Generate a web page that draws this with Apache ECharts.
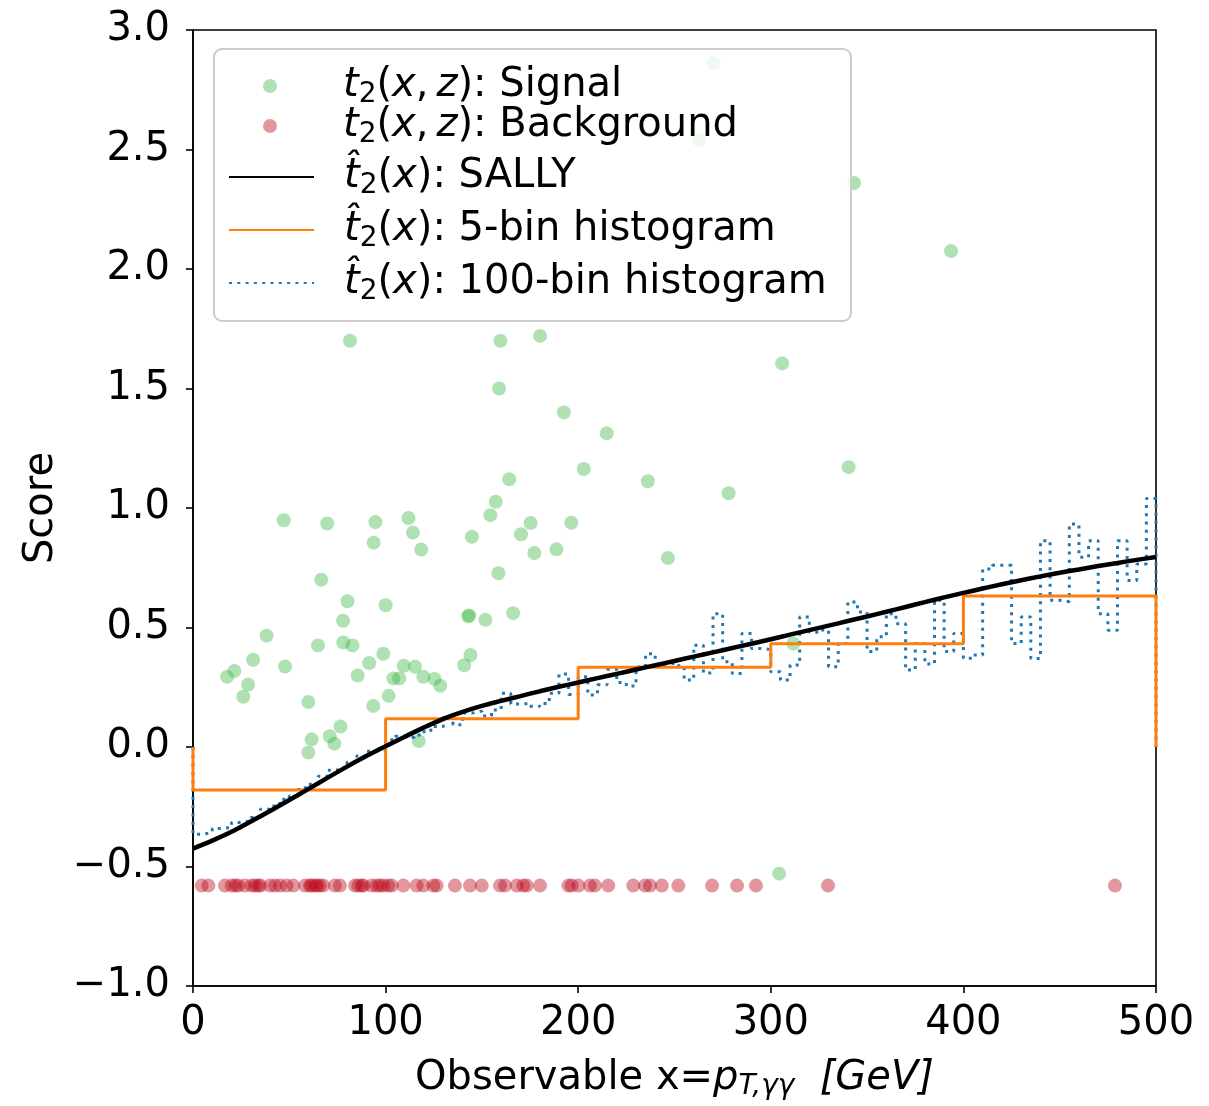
<!DOCTYPE html>
<html><head><meta charset="utf-8">
<script src="https://cdn.jsdelivr.net/npm/echarts@6/dist/echarts.min.js"></script>
<style>html,body{margin:0;padding:0;background:#fff;overflow:hidden}#c{width:1209px;height:1106px}</style>
</head><body><div id="c"></div>
<script>
// ---- data ----
const xTicks = [0, 100, 200, 300, 400, 500];
const yTicks = [-1.0, -0.5, 0.0, 0.5, 1.0, 1.5, 2.0, 2.5, 3.0];

const signalPoints = [
  [270.3,2.86],[262.7,2.54],[343.2,2.36],[393.6,2.075],[81.5,1.70],[159.6,1.70],[180.2,1.72],
  [158.9,1.50],[305.9,1.605],[192.6,1.40],[214.8,1.313],[202.9,1.163],[236.2,1.112],[278.1,1.062],
  [340.4,1.171],[164.2,1.12],[157.2,1.026],[154.4,0.97],[175.3,0.937],[170.3,0.89],[196.4,0.938],
  [177.2,0.812],[188.7,0.827],[144.8,0.88],[158.6,0.727],[246.6,0.791],[142.9,0.547],[143.4,0.55],
  [151.8,0.532],[166.2,0.56],[144.1,0.385],[140.8,0.342],[47.1,0.949],[69.7,0.935],[94.7,0.941],
  [111.9,0.958],[114.2,0.897],[93.8,0.855],[118.5,0.826],[66.6,0.70],[80.2,0.61],[100.0,0.593],
  [77.9,0.528],[38.2,0.466],[64.9,0.425],[78.0,0.437],[82.8,0.425],[21.5,0.318],[17.7,0.294],
  [31.2,0.365],[28.6,0.261],[26.1,0.21],[47.8,0.337],[98.8,0.39],[91.5,0.351],[85.5,0.299],
  [109.4,0.34],[115.3,0.336],[104.0,0.287],[107.1,0.287],[119.6,0.294],[125.4,0.285],[128.4,0.256],
  [59.9,0.188],[93.6,0.172],[101.6,0.214],[76.6,0.086],[71.0,0.045],[73.4,0.014],[61.6,0.032],
  [59.9,-0.023],[117.2,0.025],[311.7,0.433],[304.3,-0.53]
];

const backgroundPoints = [
  [4.5,-0.58],[8,-0.58],[16.6,-0.58],[20.1,-0.58],[22,-0.58],[23.5,-0.58],[27,-0.58],[30.5,-0.58],
  [32.2,-0.58],[33.9,-0.58],[35,-0.58],[40,-0.58],[42.6,-0.58],[45.2,-0.58],[48.6,-0.58],[52.1,-0.58],
  [58.2,-0.58],[60.7,-0.58],[61.5,-0.58],[63.3,-0.58],[64.5,-0.58],[65.9,-0.58],[67.7,-0.58],
  [73.7,-0.58],[76.3,-0.58],[84.1,-0.58],[85.8,-0.58],[87.6,-0.58],[88.5,-0.58],[92.8,-0.58],
  [95.4,-0.58],[97,-0.58],[98.8,-0.58],[101.4,-0.58],[103.2,-0.58],[109.2,-0.58],[116.1,-0.58],
  [119.6,-0.58],[124.8,-0.58],[126.5,-0.58],[136,-0.58],[143.8,-0.58],[149.9,-0.58],[159.4,-0.58],
  [162,-0.58],[168.1,-0.58],[171.5,-0.58],[173.3,-0.58],[180.2,-0.58],[194.9,-0.58],[196.6,-0.58],
  [200.1,-0.58],[206.1,-0.58],[208.7,-0.58],[215.6,-0.58],[228.6,-0.58],[234.7,-0.58],[237.3,-0.58],
  [243.4,-0.58],[252,-0.58],[269.5,-0.58],[282.5,-0.58],[292.3,-0.58],[329.7,-0.58],[478.7,-0.58]
];

const sallyX = [0,10,20,30,40,50,60,70,80,90,100,110,120,130,140,150,160,170,180,190,200,
  210,220,230,240,250,260,270,280,290,300,310,320,330,340,350,360,370,380,390,400,
  410,420,430,440,450,460,470,480,490,500];
const sallyY = [-0.425,-0.392,-0.355,-0.312,-0.268,-0.222,-0.175,-0.128,-0.082,-0.038,0.003,
  0.043,0.082,0.118,0.147,0.172,0.193,0.213,0.233,0.252,0.270,
  0.288,0.306,0.324,0.342,0.360,0.378,0.396,0.414,0.432,0.451,
  0.470,0.489,0.508,0.527,0.546,0.566,0.586,0.606,0.626,0.645,
  0.663,0.681,0.698,0.714,0.729,0.743,0.757,0.770,0.783,0.795];

const hist5Edges = [0,100,200,300,400,500];
const hist5Values = [-0.18,0.118,0.334,0.432,0.632];

const hist100Edges = [0,5,10,15,20,25,30,35,40,45,50,55,60,65,70,75,80,85,90,95,
  100,105,110,115,120,125,130,135,140,145,150,155,160,165,170,175,180,185,190,195,
  200,205,210,215,220,225,230,235,240,245,250,255,260,265,270,275,280,285,290,295,
  300,305,310,315,320,325,330,335,340,345,350,355,360,365,370,375,380,385,390,395,
  400,405,410,415,420,425,430,435,440,445,450,455,460,465,470,475,480,485,490,495,500];
const hist100Values = [
  -0.365,-0.358,-0.341,-0.337,-0.316,-0.309,-0.295,-0.260,-0.247,-0.219,
  -0.205,-0.170,-0.156,-0.122,-0.097,-0.087,-0.063,-0.038,-0.018,-0.011,
  0.030,0.045,0.040,0.050,0.070,0.086,0.125,0.093,0.142,0.150,
  0.130,0.155,0.225,0.180,0.182,0.170,0.182,0.225,0.305,0.220,
  0.294,0.218,0.260,0.325,0.270,0.255,0.335,0.390,0.345,0.350,
  0.340,0.280,0.426,0.310,0.558,0.357,0.308,0.475,0.412,0.408,
  0.315,0.280,0.343,0.544,0.480,0.490,0.336,0.433,0.607,0.565,
  0.400,0.461,0.558,0.516,0.322,0.433,0.347,0.614,0.400,0.475,
  0.371,0.385,0.745,0.760,0.760,0.433,0.544,0.370,0.863,0.614,
  0.608,0.933,0.794,0.863,0.558,0.489,0.863,0.697,0.766,1.040];

// ---- build series data ----
function stepPath(edges, vals){
  const pts = [[edges[0], 0]];
  for (let i = 0; i < vals.length; i++){
    pts.push([edges[i], vals[i]]);
    pts.push([edges[i+1], vals[i]]);
  }
  pts.push([edges[edges.length-1], 0]);
  return pts;
}
const sallyData = sallyX.map((x,i)=>[x, sallyY[i]]);

const FONT = 'DejaVu Sans';
const LEG_FS = 40;
const legRich = {
  n: {fontFamily: FONT, fontSize: LEG_FS, color: '#000'},
  i: {fontFamily: FONT, fontSize: LEG_FS, fontStyle: 'italic', color: '#000'},
  s: {fontFamily: FONT, fontSize: 28, color: '#000', padding: [18,0,0,0]}
};
const TS = '\u2009';
const legendText = {
  signal: '{i|t}{s|2}{n|(}{i|x}{n|,' + TS + '}{i|z}{n|): Signal}',
  background: '{i|t}{s|2}{n|(}{i|x}{n|,' + TS + '}{i|z}{n|): Background}',
  sally: '{i|t\u0302}{s|2}{n|(}{i|x}{n|): SALLY}',
  h5: '{i|t\u0302}{s|2}{n|(}{i|x}{n|): 5-bin histogram}',
  h100: '{i|t\u0302}{s|2}{n|(}{i|x}{n|): 100-bin histogram}'
};
function mkLegend(name, top, isScatter){
  const base = {
    data: [name], top: top, orient: 'vertical', itemGap: 0, padding: 0,
    formatter: n => legendText[n],
    selectedMode: false, z: 10
  };
  if (isScatter) {
    Object.assign(base, {left: 263, itemWidth: 14, itemHeight: 14,
      textStyle: {rich: legRich, padding: [0,0,0,61]}});
  } else {
    Object.assign(base, {left: 228, itemWidth: 85, itemHeight: 14,
      itemStyle: {opacity: 0},
      textStyle: {rich: legRich, padding: [0,0,0,25]}});
  }
  return base;
}

const chart = echarts.init(document.getElementById('c'), null, {renderer: 'canvas', width: 1209, height: 1106});
const axisCommon = {
  axisLine: {show: true, onZero: false, lineStyle: {color: '#000', width: 1.6}},
  axisTick: {show: true, inside: false, length: 7, lineStyle: {color: '#000', width: 1.6}},
  splitLine: {show: false}
};
chart.setOption({
  animation: false,
  backgroundColor: '#fff',
  grid: {left: 193, top: 30, right: 53, bottom: 105, show: true, borderColor: '#000', borderWidth: 1.6, backgroundColor: 'transparent'},
  xAxis: Object.assign({
    type: 'value', min: xTicks[0], max: xTicks[xTicks.length-1], interval: 100,
    axisLabel: {fontFamily: FONT, fontSize: 40, color: '#000', margin: 18},
    name: '{n|Observable x=}{i|p}{s|T,γγ}{n|  }{i|[GeV]}',
    nameLocation: 'middle', nameGap: 71,
    nameTextStyle: {rich: {
      n: {fontFamily: FONT, fontSize: 40, color: '#000'},
      i: {fontFamily: FONT, fontSize: 40, fontStyle: 'italic', color: '#000'},
      s: {fontFamily: FONT, fontSize: 28, fontStyle: 'italic', color: '#000', padding: [16,0,0,0]}
    }}
  }, axisCommon),
  yAxis: Object.assign({
    type: 'value', min: yTicks[0], max: yTicks[yTicks.length-1], interval: 0.5,
    axisLabel: {fontFamily: FONT, fontSize: 40, color: '#000', margin: 23,
      formatter: v => v.toFixed(1).replace('-', '\u2212')},
    name: 'Score', nameLocation: 'middle', nameGap: 131, nameRotate: 90,
    nameTextStyle: {fontFamily: FONT, fontSize: 40, color: '#000'}
  }, axisCommon),
  legend: [
    mkLegend('signal', 66, true),
    mkLegend('background', 106, true),
    mkLegend('sally', 157, false),
    mkLegend('h5', 210, false),
    mkLegend('h100', 263, false)
  ],
  graphic: [{
    type: 'rect', left: 213, top: 48, z: 5,
    shape: {width: 637, height: 272, r: 8},
    style: {fill: 'rgba(255,255,255,0.8)', stroke: '#cccccc', lineWidth: 2}
  }],
  series: [
    {name: 'signal', type: 'scatter', data: signalPoints, symbol: 'circle', symbolSize: 14,
     itemStyle: {color: 'rgba(55,180,65,0.5)'}, z: 2},
    {name: 'background', type: 'scatter', data: backgroundPoints, symbol: 'circle', symbolSize: 14,
     itemStyle: {color: 'rgba(185,5,25,0.52)'}, z: 2},
    {name: 'h100', type: 'line', data: stepPath(hist100Edges, hist100Values), symbol: 'none',
     lineStyle: {color: '#1f77b4', width: 3, type: [3, 5.3], cap: 'butt'}, itemStyle: {color: '#1f77b4'}, z: 3},
    {name: 'h5', type: 'line', data: stepPath(hist5Edges, hist5Values), symbol: 'none',
     lineStyle: {color: '#ff7f0e', width: 3}, itemStyle: {color: '#ff7f0e'}, z: 3},
    {name: 'sally', type: 'line', data: sallyData, symbol: 'none', smooth: 0.3,
     lineStyle: {color: '#000', width: 4.5}, itemStyle: {color: '#000'}, z: 4}
  ]
});
</script></body></html>
